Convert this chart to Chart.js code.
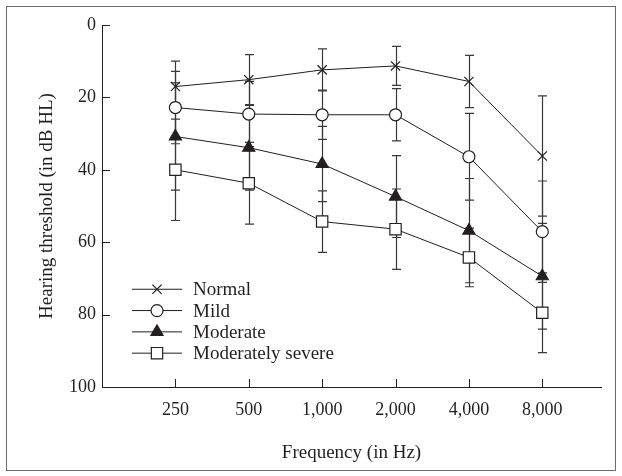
<!DOCTYPE html>
<html>
<head>
<meta charset="utf-8">
<script src="https://cdn.jsdelivr.net/npm/chart.js@4/dist/chart.umd.min.js"></script>
<style>
  html, body { margin: 0; padding: 0; background: #fff; }
  #wrap { width: 622px; height: 476px; position: relative; }
</style>
</head>
<body>
<div id="wrap"><canvas id="c" width="622" height="476"></canvas></div>
<script>
// ---- data ----
const categories = ['250', '500', '1,000', '2,000', '4,000', '8,000'];
const yTicks = [0, 20, 40, 60, 80, 100];
const seriesNames = ['Normal', 'Mild', 'Moderate', 'Moderately severe'];

const normal      = [17.0, 15.1, 12.4, 11.3, 15.6, 36.2];
const normalSD    = [7.0, 6.9, 5.8, 5.4, 7.2, 16.6];
const mild        = [22.8, 24.6, 24.8, 24.8, 36.4, 57.1];
const mildSD      = [10.0, 9.0, 6.8, 7.2, 12.0, 14.0];
const moderate    = [30.8, 33.9, 38.4, 47.4, 56.8, 69.4];
const moderateSD  = [14.8, 11.7, 10.4, 11.3, 14.4, 14.6];
const modSevere   = [40.0, 43.7, 54.3, 56.4, 64.2, 79.5];
const modSevereSD = [14.0, 11.3, 8.5, 11.1, 8.1, 11.0];

// ---- styles ----
const INK = '#231f20';
const FONT = "'Liberation Serif', 'DejaVu Serif', serif";
const TICK_SIZE = 18;
const TEXT_SIZE = 19;
const styles = [
  { pointStyle: 'crossRot', radius: 6.5, bg: '#fff', border: INK },
  { pointStyle: 'circle',   radius: 6,   bg: '#fff', border: INK },
  { pointStyle: 'triangle', radius: 7,   bg: INK,    border: INK },
  { pointStyle: 'rect',     radius: 8,   bg: '#fff', border: INK }
];
const values = [normal, mild, moderate, modSevere];
const sds = [normalSD, mildSD, moderateSD, modSevereSD];

const datasets = values.map((vals, k) => ({
  label: seriesNames[k],
  data: vals.map((v, i) => ({ x: i + 1, y: v })),
  sd: sds[k],
  borderColor: INK,
  borderWidth: 1,
  tension: 0,
  pointStyle: styles[k].pointStyle,
  pointRadius: styles[k].radius,
  pointBackgroundColor: styles[k].bg,
  pointBorderColor: styles[k].border,
  pointBorderWidth: 1.2,
  fill: false
}));

const framePlugin = {
  id: 'frame',
  beforeDraw(chart) {
    const ctx = chart.ctx;
    ctx.save();
    ctx.fillStyle = '#fff';
    ctx.fillRect(0, 0, chart.width, chart.height);
    ctx.strokeStyle = '#6d6d6d';
    ctx.lineWidth = 1;
    ctx.strokeRect(6.5, 6.5, 609, 464);
    ctx.restore();
  }
};

const errorBarPlugin = {
  id: 'errbars',
  beforeDatasetsDraw(chart) {
    const ctx = chart.ctx;
    const xs = chart.scales.x, ys = chart.scales.y;
    ctx.save();
    ctx.strokeStyle = '#3a3a3a';
    ctx.lineWidth = 1.2;
    chart.data.datasets.forEach(ds => {
      ds.data.forEach((p, i) => {
        const x = Math.round(xs.getPixelForValue(p.x)) + 0.5;
        const yt = ys.getPixelForValue(p.y - ds.sd[i]);
        const yb = ys.getPixelForValue(p.y + ds.sd[i]);
        ctx.beginPath();
        ctx.moveTo(x, yt); ctx.lineTo(x, yb);
        ctx.moveTo(x - 4.5, yt); ctx.lineTo(x + 4.5, yt);
        ctx.moveTo(x - 4.5, yb); ctx.lineTo(x + 4.5, yb);
        ctx.stroke();
      });
    });
    ctx.restore();
  }
};

const tickPlugin = {
  id: 'innerTicks',
  afterDraw(chart) {
    const ctx = chart.ctx;
    const xs = chart.scales.x, ys = chart.scales.y;
    const a = chart.chartArea;
    ctx.save();
    ctx.strokeStyle = INK;
    ctx.lineWidth = 1;
    ctx.beginPath();
    yTicks.forEach(v => {
      const y = Math.round(ys.getPixelForValue(v)) + 0.5;
      ctx.moveTo(a.left, y); ctx.lineTo(a.left + 8, y);
    });
    xs.ticks.forEach(t => {
      const x = Math.round(xs.getPixelForValue(t.value)) + 0.5;
      ctx.moveTo(x, a.bottom); ctx.lineTo(x, a.bottom - 8);
    });
    ctx.stroke();
    ctx.restore();
  }
};

const legendPlugin = {
  id: 'lineLegend',
  afterDatasetsDraw(chart) {
    const ctx = chart.ctx;
    const a = chart.chartArea;
    const x0 = a.left + 30, x1 = a.left + 80, xm = (x0 + x1) / 2;
    const ys = chart.scales.y;
    const yStart = ys.getPixelForValue(73.0);
    const step = 21.3;
    ctx.save();
    chart.data.datasets.forEach((ds, k) => {
      const y = yStart + k * step;
      ctx.strokeStyle = INK;
      ctx.lineWidth = 1;
      ctx.beginPath();
      ctx.moveTo(x0, y); ctx.lineTo(x1, y);
      ctx.stroke();
      ctx.fillStyle = ds.pointBackgroundColor;
      ctx.strokeStyle = ds.pointBorderColor;
      ctx.lineWidth = ds.pointBorderWidth;
      Chart.helpers.drawPoint(ctx, { pointStyle: ds.pointStyle, radius: ds.pointRadius, rotation: 0, borderWidth: ds.pointBorderWidth }, xm, y);
      ctx.fillStyle = INK;
      ctx.font = TEXT_SIZE + 'px ' + FONT;
      ctx.textAlign = 'left';
      ctx.textBaseline = 'middle';
      ctx.fillText(ds.label, x1 + 11, y + 1);
    });
    ctx.restore();
  }
};

new Chart(document.getElementById('c'), {
  type: 'line',
  data: { datasets },
  options: {
    responsive: false,
    animation: false,
    layout: { padding: { left: 0, top: 25, right: 21, bottom: 0 } },
    plugins: { legend: { display: false }, tooltip: { enabled: false } },
    scales: {
      x: {
        type: 'linear',
        min: 0,
        max: 6.8,
        afterBuildTicks(scale) { scale.ticks = categories.map((c, i) => ({ value: i + 1 })); },
        afterFit(scale) { scale.height = 89; },
        grid: { display: false, drawTicks: false },
        border: { display: true, color: INK, width: 1 },
        ticks: {
          padding: 12,
          color: INK,
          font: { family: FONT, size: TICK_SIZE },
          maxRotation: 0,
          autoSkip: false,
          callback: (v) => categories[Math.round(v) - 1] || ''
        },
        title: {
          display: true,
          text: 'Frequency (in Hz)',
          color: INK,
          font: { family: FONT, size: TEXT_SIZE },
          padding: { top: 0, bottom: 11.5 }
        }
      },
      y: {
        type: 'linear',
        reverse: true,
        min: 0,
        max: 100,
        afterBuildTicks(scale) { scale.ticks = yTicks.map(v => ({ value: v })); },
        afterFit(scale) { scale.width = 102; },
        grid: { display: false, drawTicks: false },
        border: { display: true, color: INK, width: 1 },
        ticks: {
          padding: 6,
          color: INK,
          font: { family: FONT, size: TICK_SIZE }
        },
        title: {
          display: true,
          text: 'Hearing threshold (in dB HL)',
          color: INK,
          font: { family: FONT, size: TEXT_SIZE },
          padding: { top: 35.5, bottom: 0 }
        }
      }
    }
  },
  plugins: [framePlugin, errorBarPlugin, tickPlugin, legendPlugin]
});
</script>
</body>
</html>
